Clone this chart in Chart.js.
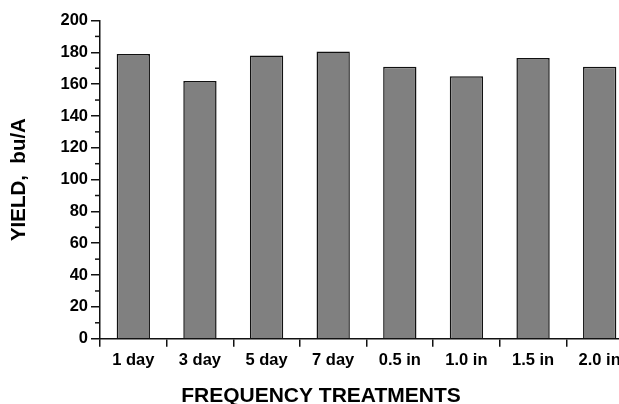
<!DOCTYPE html>
<html>
<head>
<meta charset="utf-8">
<script src="https://cdn.jsdelivr.net/npm/chart.js@4/dist/chart.umd.min.js"></script>
<style>
  html, body { margin: 0; padding: 0; background: #fff; overflow: hidden; }
  #wrap { width: 646px; height: 404px; }
</style>
</head>
<body>
<div id="wrap"><canvas id="chart"></canvas></div>
<script>
// treatments along the x axis
const treatments = ["1 day", "3 day", "5 day", "7 day", "0.5 in", "1.0 in", "1.5 in", "2.0 in"];
// yield per treatment, bu/A
const yields = [179, 162, 178, 180.5, 171, 165, 176.5, 171];

const yMin = 0;
const yMax = 200;
const majorStep = 20;
const minorStep = 10;

Chart.defaults.font.family = "'Liberation Sans', Arial, sans-serif";
Chart.defaults.font.weight = "bold";
Chart.defaults.color = "#000";

// short minor ticks on the y axis, between the labelled ones
const minorTicks = {
  id: "minorTicks",
  afterDraw(chart) {
    const y = chart.scales.y;
    const ctx = chart.ctx;
    ctx.save();
    ctx.strokeStyle = "#111";
    ctx.lineWidth = 1.5;
    for (let v = yMin + minorStep; v < yMax; v += majorStep) {
      const py = y.getPixelForValue(v);
      ctx.beginPath();
      ctx.moveTo(y.right - 5, py);
      ctx.lineTo(y.right, py);
      ctx.stroke();
    }
    ctx.restore();
  },
};

const ctx = document.getElementById("chart");

new Chart(ctx, {
  type: "bar",
  data: {
    labels: treatments,
    datasets: [
      {
        data: yields,
        backgroundColor: "#808080",
        borderColor: "#111",
        borderWidth: 1.5,
        borderSkipped: "bottom",
        barPercentage: 0.5,
        categoryPercentage: 1,
      },
    ],
  },
  options: {
    responsive: true,
    maintainAspectRatio: false,
    animation: false,
    layout: { padding: { left: 9, right: 13, top: 20.5, bottom: 0 } },
    plugins: {
      legend: { display: false },
      tooltip: { enabled: false },
      title: {
        display: true,
        position: "bottom",
        text: "FREQUENCY TREATMENTS",
        font: { size: 21, weight: "bold", lineHeight: 0.7 },
        padding: { top: 0, bottom: 0 },
        color: "#000",
      },
    },
    scales: {
      x: {
        offset: true,
        grid: {
          offset: true,
          drawOnChartArea: false,
          drawTicks: true,
          tickLength: 8,
          color: "#111",
          lineWidth: 1.5,
        },
        border: { display: true, color: "#111", width: 1.5 },
        ticks: { font: { size: 16.5, weight: "bold" }, padding: 4, maxRotation: 0, autoSkip: false },
        afterFit(scale) {
          scale.height = 50.6;
        },
      },
      y: {
        min: yMin,
        max: yMax,
        ticks: { stepSize: majorStep, font: { size: 16.5, weight: "bold" }, padding: 3 },
        grid: {
          drawOnChartArea: false,
          drawTicks: true,
          tickLength: 9,
          color: "#111",
          lineWidth: 1.5,
        },
        border: { display: true, color: "#111", width: 1.5 },
        title: {
          display: true,
          text: "YIELD,  bu/A",
          font: { size: 20.5, weight: "bold", lineHeight: 1 },
          padding: { top: 0, bottom: 0 },
          color: "#000",
        },
        afterFit(scale) {
          scale.width = 91;
        },
      },
    },
  },
  plugins: [minorTicks],
});
</script>
</body>
</html>
